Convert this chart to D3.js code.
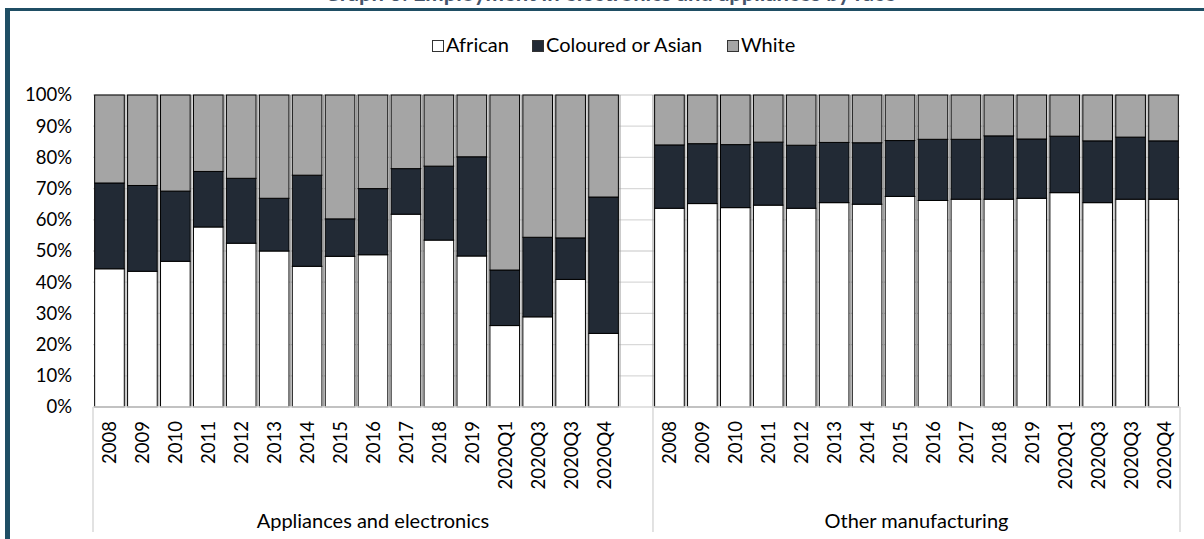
<!DOCTYPE html>
<html>
<head>
<meta charset="utf-8">
<script src="https://cdn.jsdelivr.net/npm/d3@7"></script>
<style>
  html, body { margin: 0; padding: 0; background: #fff; }
  svg { display: block; font-family: Lato, "Open Sans", sans-serif; }
</style>
</head>
<body>
<svg id="chart" width="1204" height="539"></svg>
<script>
// ---- data ----
const title = "Graph 3: Employment in electronics and appliances by race";
const groups = ["Appliances and electronics", "Other manufacturing"];
const periods = ["2008","2009","2010","2011","2012","2013","2014","2015","2016","2017","2018","2019","2020Q1","2020Q3","2020Q3","2020Q4"];
const seriesNames = ["African", "Coloured or Asian", "White"];
const yTicks = [0, 10, 20, 30, 40, 50, 60, 70, 80, 90, 100];

const africanAppliances  = [44.3,43.5,46.7,57.7,52.5,50.0,45.1,48.3,48.8,61.8,53.5,48.4,26.1,28.9,40.9,23.6];
const colouredAppliances = [27.5,27.5,22.5,17.8,20.8,16.9,29.2,12.0,21.2,14.6,23.7,31.8,17.8,25.5,13.3,43.7];
const whiteAppliances    = [28.2,29.0,30.8,24.5,26.7,33.1,25.7,39.7,30.0,23.6,22.8,19.8,56.1,45.6,45.8,32.7];

const africanOther  = [63.7,65.2,63.9,64.7,63.7,65.5,65.0,67.5,66.2,66.6,66.6,66.9,68.7,65.5,66.6,66.6];
const colouredOther = [20.3,19.2,20.2,20.2,20.2,19.3,19.7,17.9,19.6,19.2,20.3,19.0,18.1,19.8,19.9,18.7];
const whiteOther    = [16.0,15.6,15.9,15.1,16.1,15.2,15.3,14.6,14.2,14.2,13.1,14.1,13.2,14.7,13.5,14.7];

const colors = ["#ffffff", "#222a35", "#a5a5a5"];

// ---- build rows ----
const rows = [];
periods.forEach((p, i) => rows.push({key: "A" + i, group: 0, period: p,
  "African": africanAppliances[i], "Coloured or Asian": colouredAppliances[i], "White": whiteAppliances[i]}));
const gapKey = "gap";
periods.forEach((p, i) => rows.push({key: "O" + i, group: 1, period: p,
  "African": africanOther[i], "Coloured or Asian": colouredOther[i], "White": whiteOther[i]}));

const slotKeys = rows.filter(r => r.group === 0).map(r => r.key)
  .concat([gapKey])
  .concat(rows.filter(r => r.group === 1).map(r => r.key));

// ---- layout ----
const svg = d3.select("#chart");
const plotLeft = 93, plotRight = 1180, plotTop = 95, plotBottom = 407;

const x = d3.scaleBand().domain(slotKeys).range([plotLeft, plotRight])
  .paddingInner(0.1).paddingOuter(0.05);
const y = d3.scaleLinear().domain([0, 100]).range([plotBottom, plotTop]);
const step = x.step();

// frame
svg.append("line").attr("x1", 7.5).attr("x2", 7.5).attr("y1", 8).attr("y2", 539)
  .attr("stroke", "#1f4e64").attr("stroke-width", 5);
svg.append("line").attr("x1", 5).attr("x2", 1204).attr("y1", 9.6).attr("y2", 9.6)
  .attr("stroke", "#1f4e64").attr("stroke-width", 3);

// title (cropped at top, as in the reference)
svg.append("text").attr("x", 610).attr("y", 0.5).attr("text-anchor", "middle")
  .attr("font-size", 22).attr("font-weight", "bold").attr("fill", "#44546a")
  .text(title);

// gridlines
svg.append("g").selectAll("line").data(yTicks.filter(t => t > 0)).join("line")
  .attr("x1", plotLeft).attr("x2", plotRight)
  .attr("y1", d => y(d)).attr("y2", d => y(d))
  .attr("stroke", "#d9d9d9").attr("stroke-width", 1.3);

// slot boundary lines
const boundaries = d3.range(1, slotKeys.length);
svg.append("g").selectAll("line").data(boundaries).join("line")
  .attr("x1", d => plotLeft + d * step).attr("x2", d => plotLeft + d * step)
  .attr("y1", y(100)).attr("y2", y(0))
  .attr("stroke", "#9a9a9a").attr("stroke-width", 1);

// stacked bars
const stack = d3.stack().keys(seriesNames);
const stacked = stack(rows);
svg.append("g").selectAll("g").data(stacked).join("g")
  .attr("fill", (d, i) => colors[i])
  .selectAll("rect").data(d => d).join("rect")
  .attr("x", d => x(d.data.key))
  .attr("width", x.bandwidth())
  .attr("y", d => y(d[1]))
  .attr("height", d => y(d[0]) - y(d[1]))
  .attr("stroke", "#000").attr("stroke-width", 1);

// y axis labels
const yAxis = d3.axisLeft(y).tickValues(yTicks).tickFormat(d => d + "%").tickSize(0).tickPadding(0);
const ya = svg.append("g").attr("transform", "translate(72,0)").call(yAxis);
ya.select(".domain").remove();
ya.selectAll("text").attr("font-size", 18.5).attr("font-family", "Lato, sans-serif").attr("fill", "#000");

// category axis baseline and separators
svg.append("line").attr("x1", plotLeft).attr("x2", plotRight)
  .attr("y1", plotBottom).attr("y2", plotBottom)
  .attr("stroke", "#d9d9d9").attr("stroke-width", 1.5);
const sepX = [plotLeft, plotLeft + 17 * step, plotRight];
svg.append("g").selectAll("line").data(sepX).join("line")
  .attr("x1", d => d).attr("x2", d => d)
  .attr("y1", plotBottom).attr("y2", 532)
  .attr("stroke", "#d9d9d9").attr("stroke-width", 1.5);

// period labels (rotated)
svg.append("g").selectAll("text").data(rows).join("text")
  .attr("transform", d => `translate(${x(d.key) + x.bandwidth() / 2},421) rotate(-90)`)
  .attr("text-anchor", "end").attr("dominant-baseline", "central")
  .attr("font-size", 18.5).attr("fill", "#000")
  .text(d => d.period);

// group labels
const groupCenters = [(sepX[0] + sepX[1]) / 2, (sepX[1] + sepX[2]) / 2];
svg.append("g").selectAll("text").data(groups).join("text")
  .attr("x", (d, i) => groupCenters[i]).attr("y", 528)
  .attr("text-anchor", "middle").attr("font-size", 20).attr("fill", "#000")
  .text(d => d);

// legend
const legendX = [432, 532, 727];
const lg = svg.append("g").selectAll("g").data(seriesNames).join("g")
  .attr("transform", (d, i) => `translate(${legendX[i]},40)`);
lg.append("rect").attr("x", 0.5).attr("y", 0.5).attr("width", 11).attr("height", 11)
  .attr("fill", (d, i) => colors[i]).attr("stroke", "#333").attr("stroke-width", 1);
lg.append("text").attr("x", 14).attr("y", 11.5).attr("font-size", 20).attr("fill", "#000")
  .text(d => d);
</script>
</body>
</html>
